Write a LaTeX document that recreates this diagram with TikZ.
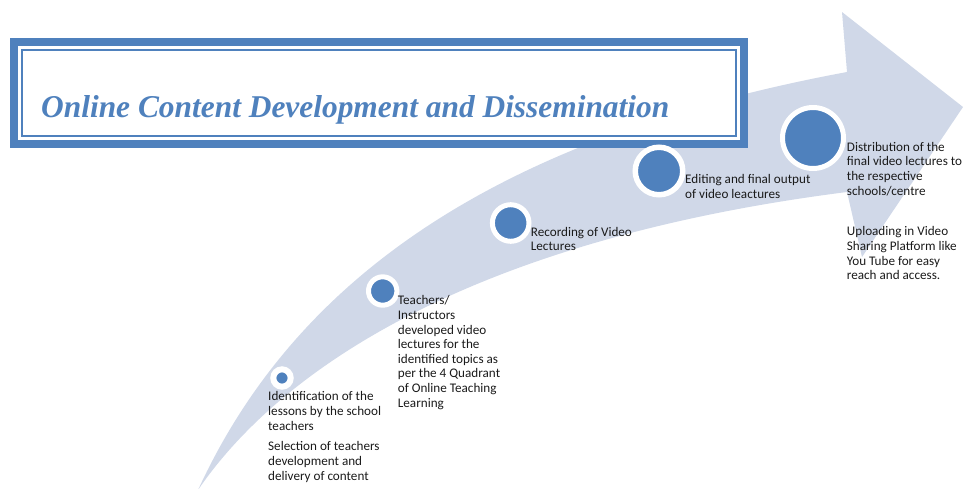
\documentclass[tikz,border=0pt]{standalone}
\usepackage{graphicx}
\usepackage{fontspec}
\setmainfont{Carlito}
\newfontfamily\titlefont{Liberation Serif}
\definecolor{accent}{HTML}{4F81BD}
\definecolor{arrowfill}{HTML}{D0D8E8}
\definecolor{txt}{HTML}{1A1A1A}
\begin{document}
\begin{tikzpicture}[x=1pt,y=-1pt,
  dot/.style={circle, fill=accent, draw=white, inner sep=0pt},
  lbl/.style={anchor=north west, inner sep=0pt, align=left, font=\fontsize{13.15}{14.6}\selectfont, text=txt}]
\useasboundingbox (0,0) rectangle (963,488);
% big curved arrow
\fill[arrowfill] (198,490) .. controls (290,290) and (480,140) .. (847,72)
  -- (842,12) -- (963,107) -- (862,257) -- (847,192)
  .. controls (470,240) and (280,370) .. (198,490) -- cycle;
% title box
\fill[white] (10,38) rectangle (748,148);
\draw[accent, line width=8pt] (14,42) rectangle (744,144);
\draw[accent, line width=2.2pt] (22,50) rectangle (736,136);
\node[anchor=base west, inner sep=0pt, text=accent] (title) at (41,117)
  {\resizebox{628pt}{22pt}{\titlefont\bfseries\itshape Online Content Development and Dissemination}};
% circles
\node[dot, line width=6pt, minimum size=17.4pt] (c1) at (282,378) {};
\node[dot, line width=5pt, minimum size=28.4pt] (c2) at (382.7,291) {};
\node[dot, line width=5pt, minimum size=36.6pt] (c3) at (510.7,223) {};
\node[dot, line width=5.5pt, minimum size=47.5pt] (c4) at (659,171) {};
\node[dot, line width=5pt, minimum size=61pt] (c5) at (813,138) {};
% labels
\node[lbl] (t1) at (268,391.5) {Identification of the\\lessons by the school\\teachers};
\node[lbl] (t1b) at (268,441.5) {Selection of teachers\\development and\\delivery of content};
\node[lbl] (t2) at (397.7,295.5) {Teachers/\\Instructors\\developed video\\lectures for the\\identified topics as\\per the 4 Quadrant\\of Online Teaching\\Learning};
\node[lbl] (t3) at (530.7,227) {Recording of Video\\Lectures};
\node[lbl] (t4) at (685,174.5) {Editing and final output\\of video leactures};
\node[lbl] (t5) at (846.7,142) {Distribution of the\\final video lectures to\\the respective\\schools/centre};
\node[lbl] (t5b) at (846.7,226.5) {Uploading in Video\\Sharing Platform like\\You Tube for easy\\reach and access.};
\end{tikzpicture}
\end{document}
